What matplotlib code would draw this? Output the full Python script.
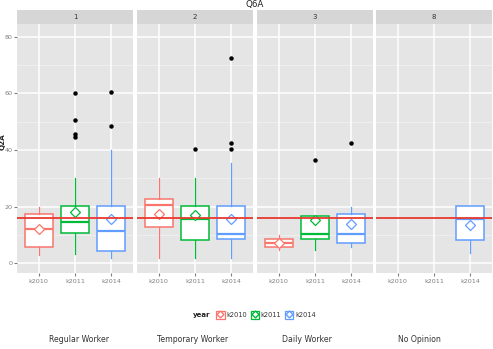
import numpy as np
import matplotlib
matplotlib.use("Agg")
import matplotlib.pyplot as plt
from matplotlib.patches import Rectangle
from matplotlib.lines import Line2D
from matplotlib.legend_handler import HandlerTuple

# ---- data ----
panels = ["1", "2", "3", "8"]
panel_names = ["Regular Worker", "Temporary Worker", "Daily Worker", "No Opinion"]
years = ["k2010", "k2011", "k2014"]
colors = ["#F8766D", "#00BA38", "#619CFF"]

nan = np.nan
q1 = [[5.9, 10.6, 4.5], [12.8, 8.4, 8.6], [5.9, 8.7, 7.3], [nan, nan, 8.4]]
med = [[12.3, 14.5, 11.4], [20.5, 15.6, 10.5], [7.3, 10.5, 10.5], [nan, nan, 15.8]]
q3 = [[17.3, 20.2, 20.2], [22.8, 20.3, 20.3], [8.6, 16.7, 17.4], [nan, nan, 20.3]]
whislo = [[2.9, 3.4, 1.9], [1.9, 1.9, 1.9], [4.7, 4.7, 5.9], [nan, nan, 3.5]]
whishi = [[20.0, 30.0, 40.0], [30.0, 30.0, 35.5], [10.1, 16.7, 20.0], [nan, nan, 20.3]]
means = [[12.1, 18.2, 15.8], [17.6, 17.2, 15.8], [7.3, 15.4, 13.9], [nan, nan, 13.7]]
outliers = [
    [[], [60.0, 50.5, 45.5, 44.5], [60.4, 48.4]],
    [[], [40.3], [72.5, 42.6, 40.3]],
    [[], [36.6], [42.6]],
    [[], [], []],
]
ref_line = 16.0
yticks = [0, 20, 40, 60, 80]

# ---- layout ----
W, H = 493, 349
fig = plt.figure(figsize=(W / 100, H / 100), dpi=100)

def rect(x0, y0, x1, y1):
    return [x0 / W, 1 - y1 / H, (x1 - x0) / W, (y1 - y0) / H]

lefts = [17, 137, 257, 376]
pw = 116
ptop, pbot = 24, 273
strip_top = 10
bg = "#E5E5E5"

for i, p in enumerate(panels):
    ax = fig.add_axes(rect(lefts[i], ptop, lefts[i] + pw, pbot))
    ax.set_facecolor(bg)
    for s in ax.spines.values():
        s.set_visible(False)
    ax.set_xlim(0.4, 3.6)
    ax.set_ylim(-3.4, 84.5)
    # grid
    for v in [10, 30, 50, 70]:
        ax.axhline(v, color="#F2F2F2", lw=0.6, zorder=0)
    for v in yticks:
        ax.axhline(v, color="white", lw=1.1, zorder=0)
    for x in [1, 2, 3]:
        ax.axvline(x, color="white", lw=1.1, zorder=0)
    for j in range(3):
        if np.isnan(med[i][j]):
            continue
        c = colors[j]
        st = dict(med=med[i][j], q1=q1[i][j], q3=q3[i][j],
                  whislo=whislo[i][j], whishi=whishi[i][j],
                  fliers=outliers[i][j], mean=means[i][j], label=years[j])
        ax.bxp([st], positions=[j + 1], widths=0.77, patch_artist=True,
               showcaps=False, showmeans=False, manage_ticks=False,
               boxprops=dict(facecolor="white", edgecolor=c, lw=1.1),
               medianprops=dict(color=c, lw=1.6),
               whiskerprops=dict(color=c, lw=0.9),
               flierprops=dict(marker="o", markersize=2.2, markerfacecolor="black",
                               markeredgecolor="black"),
               zorder=2)
        ax.plot([j + 1], [means[i][j]], marker="D", markersize=4.8, markerfacecolor="white",
                markeredgecolor=c, markeredgewidth=0.9, zorder=4)
    ax.axhline(ref_line, color="#E8392F", lw=1.3, zorder=5)
    ax.set_xticks([1, 2, 3])
    ax.set_xticklabels(years, fontsize=4.6, color="#7F7F7F")
    ax.tick_params(axis="x", length=2, color="#7F7F7F", pad=2)
    ax.set_yticks(yticks)
    if i == 0:
        ax.set_yticklabels([str(v) for v in yticks], fontsize=4.6, color="#7F7F7F")
        ax.tick_params(axis="y", length=2, color="#7F7F7F", pad=1.2)
    else:
        ax.set_yticklabels([])
        ax.tick_params(axis="y", length=0)
    # strip
    sax = fig.add_axes(rect(lefts[i], strip_top, lefts[i] + pw, ptop))
    sax.set_facecolor("#D6D6D6")
    for s in sax.spines.values():
        s.set_visible(False)
    sax.set_xticks([])
    sax.set_yticks([])
    sax.text(0.5, 0.5, p, ha="center", va="center", fontsize=5, color="#333333",
             transform=sax.transAxes)

# title and y label
fig.text(255 / W, 1 - 5 / H, "Q6A", ha="center", va="center", fontsize=6.3, color="#222222")
fig.text(2.5 / W, 1 - 142 / H, "Q2A", ha="center", va="center", rotation=90,
         fontsize=5.2, color="#222222", fontweight="bold")

# legend
fig.text(202 / W, 1 - 315 / H, "year", ha="center", va="center", fontsize=5,
         fontweight="bold", color="#222222")
handles = []
for c in colors:
    r = Rectangle((0, 0), 1, 1, facecolor="white", edgecolor=c, lw=0.9)
    m = Line2D([], [], marker="D", markersize=3.5, markerfacecolor="white",
               markeredgecolor=c, lw=0)
    handles.append((r, m))
fig.legend(handles, years, ncol=3, frameon=False, fontsize=4.8,
           loc="center", bbox_to_anchor=(266 / W, 1 - 315 / H),
           handler_map={tuple: HandlerTuple(ndivide=1, pad=0)},
           handlelength=1.3, handleheight=1.3, handletextpad=0.25,
           columnspacing=0.5, labelcolor="#333333")

# category labels
label_x = [79, 193, 307, 419]
for x, t in zip(label_x, panel_names):
    fig.text(x / W, 1 - 339 / H, t, ha="center", va="center", fontsize=5.6,
             color="#333333")

fig.savefig("out.png", dpi=100)
